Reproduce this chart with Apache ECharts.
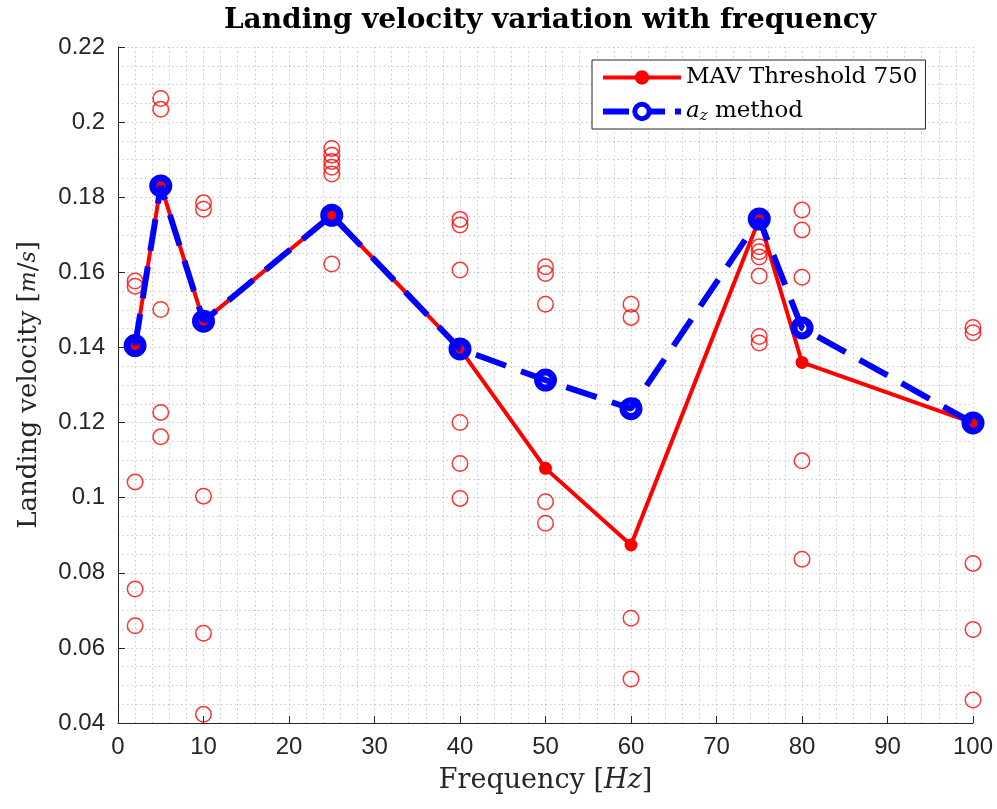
<!DOCTYPE html>
<html>
<head>
<meta charset="utf-8">
<script src="https://cdn.jsdelivr.net/npm/echarts@6/dist/echarts.min.js"></script>
<style>
  html, body { margin: 0; padding: 0; background: #fff; }
  #chart { width: 997px; height: 809px; }
</style>
</head>
<body>
<div id="chart"></div>
<script>
// Frequencies tested (Hz)
const frequencies = [2, 5, 10, 25, 40, 50, 60, 75, 80, 100];

// Mean landing velocity per frequency, MAV threshold 750 (m/s)
const mavMean = [0.1405, 0.1832, 0.1470, 0.1752, 0.1396, 0.1078, 0.0874, 0.1742, 0.1360, 0.1199];

// Mean landing velocity per frequency, a_z method (m/s)
const azMean = [0.1405, 0.1830, 0.1470, 0.1752, 0.1396, 0.1313, 0.1237, 0.1742, 0.1452, 0.1199];

// Individual trials (frequency, landing velocity)
const trialFreq = [
  2, 2, 2, 2, 2,
  5, 5, 5, 5, 5,
  10, 10, 10, 10, 10,
  25, 25, 25, 25, 25, 25,
  40, 40, 40, 40, 40, 40,
  50, 50, 50, 50, 50,
  60, 60, 60, 60,
  75, 75, 75, 75, 75, 75,
  80, 80, 80, 80, 80,
  100, 100, 100, 100, 100
];
const trialVel = [
  0.1577, 0.1563, 0.1042, 0.0757, 0.0659,
  0.2063, 0.2034, 0.1501, 0.1227, 0.1162,
  0.1785, 0.1768, 0.1004, 0.0639, 0.0423,
  0.1930, 0.1912, 0.1895, 0.1880, 0.1862, 0.1622,
  0.1741, 0.1726, 0.1606, 0.1200, 0.1091, 0.0998,
  0.1615, 0.1597, 0.1515, 0.0989, 0.0932,
  0.1515, 0.1480, 0.0679, 0.0517,
  0.1668, 0.1655, 0.1641, 0.1590, 0.1429, 0.1412,
  0.1766, 0.1713, 0.1587, 0.1098, 0.0836,
  0.1453, 0.1439, 0.0825, 0.0649, 0.0461
];

// Axis ranges and ticks
const xMin = 0, xMax = 100, xStep = 10;
const yMin = 0.04, yMax = 0.22, yStep = 0.02;

const serif = '"DejaVu Serif", "Liberation Serif", serif';
const sans = '"Liberation Sans", Arial, sans-serif';
const ink = '#262626';
const red = '#ff0000';
const blue = '#0000ff';

const pair = (xs, ys) => xs.map((x, i) => [x, ys[i]]);

const gridLine = { show: true, lineStyle: { color: '#c8c8c8', type: [1.5, 3], width: 1 } };

const chart = echarts.init(document.getElementById('chart'), null, { renderer: 'canvas' });

chart.setOption({
  backgroundColor: '#ffffff',
  animation: false,
  title: {
    text: 'Landing velocity variation with frequency',
    left: 545, top: 2, textAlign: 'center',
    textStyle: { fontFamily: serif, fontWeight: 'bold', fontSize: 28, color: '#000' }
  },
  grid: { left: 118, right: 24, top: 47, bottom: 86, containLabel: false },
  legend: {
    left: 592, top: 60,
    orient: 'vertical',
    data: [
      { name: 'MAV Threshold 750',
        lineStyle: { color: red, width: 4 },
        itemStyle: { color: red } },
      { name: 'a_z method',
        lineStyle: { color: blue, width: 6, type: [26, 10] },
        itemStyle: { color: '#ffffff', borderColor: blue, borderWidth: 5 } }
    ],
    backgroundColor: '#ffffff',
    borderColor: ink, borderWidth: 1,
    padding: [6, 8, 5, 8],
    itemGap: 11,
    itemWidth: 78, itemHeight: 18,
    textStyle: {
      fontFamily: serif, fontSize: 23, color: '#000',
      rich: {
        it: { fontFamily: serif, fontStyle: 'italic', fontSize: 23, color: '#000' },
        sub: { fontFamily: serif, fontStyle: 'italic', fontSize: 15, color: '#000', verticalAlign: 'bottom', padding: [10, 0, 0, 0] },
        n: { fontFamily: serif, fontSize: 23, color: '#000' }
      }
    },
    formatter: name => name === 'a_z method' ? '{it|a}{sub|z}{n| method}' : name
  },
  xAxis: {
    type: 'value', min: xMin, max: xMax, interval: xStep,
    name: 'Frequency [{i|Hz}]',
    nameLocation: 'middle', nameGap: 44,
    nameTextStyle: {
      fontFamily: serif, fontSize: 27, color: ink,
      rich: { i: { fontFamily: serif, fontStyle: 'italic', fontSize: 27, color: ink } }
    },
    axisLine: { show: true, onZero: false, lineStyle: { color: ink, width: 1 } },
    axisTick: { show: true, inside: true, length: 7, lineStyle: { color: ink } },
    axisLabel: { fontFamily: sans, fontSize: 24, color: ink, margin: 12 },
    splitLine: gridLine,
    minorTick: { show: false, splitNumber: 5 },
    minorSplitLine: gridLine
  },
  yAxis: {
    type: 'value', min: yMin, max: yMax, interval: yStep,
    name: 'Landing velocity [{i|m}/{i|s}]',
    nameLocation: 'middle', nameGap: 76,
    nameTextStyle: {
      fontFamily: serif, fontSize: 26, color: ink,
      rich: { i: { fontFamily: serif, fontStyle: 'italic', fontSize: 22, color: ink } }
    },
    axisLine: { show: true, onZero: false, lineStyle: { color: ink, width: 1 } },
    axisTick: { show: true, inside: true, length: 7, lineStyle: { color: ink } },
    axisLabel: { fontFamily: sans, fontSize: 24, color: ink, margin: 13,
      formatter: v => String(+v.toFixed(2)) },
    splitLine: gridLine,
    minorTick: { show: false, splitNumber: 4 },
    minorSplitLine: gridLine
  },
  series: [
    {
      name: 'trials',
      type: 'scatter',
      data: pair(trialFreq, trialVel),
      symbol: 'circle', symbolSize: 15.5,
      itemStyle: { color: 'rgba(0,0,0,0)', borderColor: red, borderWidth: 1.5 },
      z: 2
    },
    {
      name: 'MAV Threshold 750',
      type: 'line',
      data: pair(frequencies, mavMean),
      symbol: 'circle', symbolSize: 13, showAllSymbol: true,
      lineStyle: { color: red, width: 4 },
      itemStyle: { color: red },
      z: 3
    },
    {
      name: 'a_z method',
      type: 'line',
      data: pair(frequencies, azMean),
      symbol: 'circle', symbolSize: 16, showAllSymbol: true,
      lineStyle: { color: blue, width: 6, type: [32, 16] },
      itemStyle: { color: 'rgba(0,0,0,0)', borderColor: blue, borderWidth: 7 },
      z: 4
    }
  ]
});
</script>
</body>
</html>
